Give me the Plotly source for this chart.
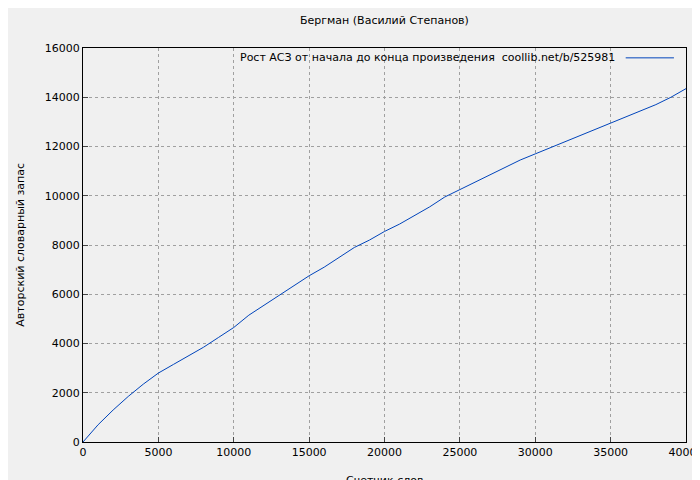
import plotly.graph_objects as go

words = [0,1000,2000,3000,4000,5000,6000,7000,8000,9000,10000,11000,12000,13000,14000,15000,16000,17000,18000,19000,20000,21000,22000,23000,24000,25000,26000,27000,28000,29000,30000,31000,32000,33000,34000,35000,36000,37000,38000,39000,40000]
vocab = [0,700,1300,1850,2350,2800,3150,3500,3850,4250,4650,5150,5550,5950,6350,6750,7100,7500,7900,8200,8550,8850,9200,9550,9950,10250,10550,10850,11150,11450,11700,11950,12200,12450,12700,12950,13200,13450,13700,14000,14350]
title = "Бергман (Василий Степанов)"
legend_text = "Рост АСЗ от начала до конца произведения  coollib.net/b/525981"
xlabel = "Счетчик слов"
ylabel = "Авторский словарный запас"

fig = go.Figure(go.Scatter(x=words, y=vocab, mode="lines", line=dict(color="#0044bb", width=1), showlegend=False))
axis = dict(showline=True, linecolor="black", mirror=True, ticks="inside", ticklen=5,
            showgrid=True, gridcolor="#a0a0a0", griddash="dot", gridwidth=1, zeroline=False,
            tickformat="d", automargin=False)
fig.update_layout(
    width=700, height=480, paper_bgcolor="#f0f0f0", plot_bgcolor="#f0f0f0",
    margin=dict(l=75, r=22, t=40, b=46),
    font=dict(family="DejaVu Sans", size=11, color="black"),
    xaxis=dict(axis, range=[0, 40000], dtick=5000),
    yaxis=dict(axis, range=[0, 16000], dtick=2000),
)
fig.add_annotation(xref="paper", yref="paper", x=0.5, y=-0.075, yanchor="top", text=xlabel, showarrow=False)
fig.add_annotation(xref="paper", yref="paper", x=-0.105, y=0.5, xanchor="center", text=ylabel, textangle=-90, showarrow=False)
fig.add_annotation(xref="paper", yref="paper", x=0.5, y=1.07, yanchor="middle", text=title, showarrow=False)
fig.add_annotation(xref="paper", yref="paper", x=0.885, y=0.975, xanchor="right", yanchor="middle",
                   text=legend_text, showarrow=False)
fig.add_shape(type="line", xref="paper", yref="paper", x0=0.9, x1=0.98, y0=0.975, y1=0.975,
              line=dict(color="#0044bb", width=1))
fig.write_html("out.html")
